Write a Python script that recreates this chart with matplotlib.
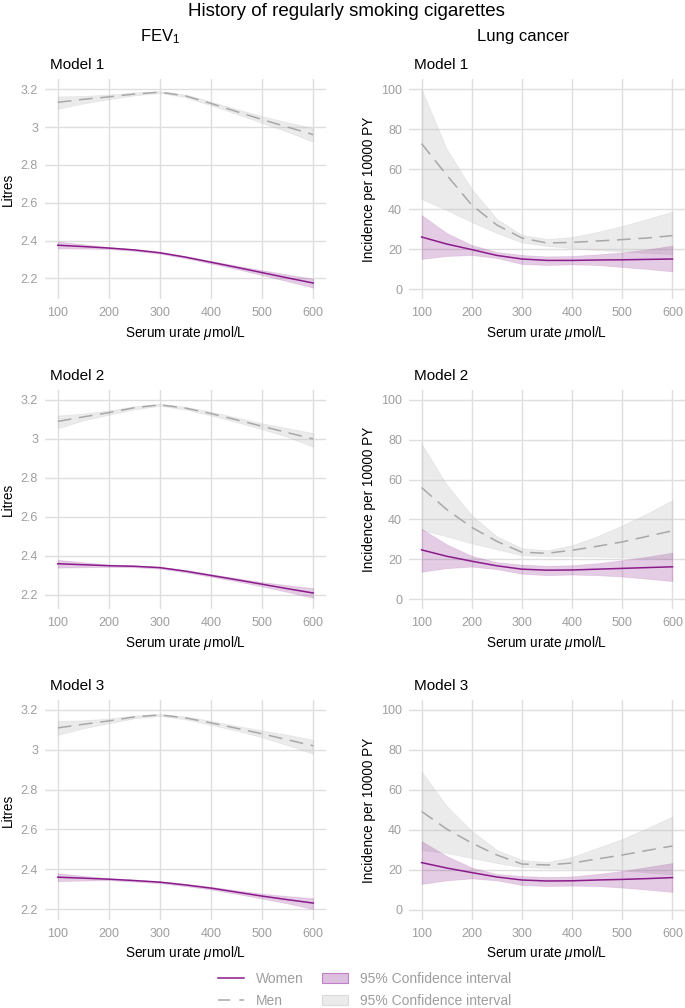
import numpy as np
import matplotlib
matplotlib.use('Agg')
from matplotlib import pyplot as plt
from matplotlib.lines import Line2D
from matplotlib.patches import Patch

plt.rcParams['font.family'] = ['Liberation Sans', 'DejaVu Sans']
plt.rcParams['mathtext.fontset'] = 'custom'
plt.rcParams['mathtext.rm'] = 'Liberation Sans'
plt.rcParams['mathtext.it'] = 'Liberation Sans:italic'

urate = [100, 150, 200, 250, 300, 350, 400, 450, 500, 550, 600]

# FEV1 (Litres), models 1-3
fev_men = [
    [3.131, 3.147, 3.16, 3.175, 3.185, 3.165, 3.125, 3.082, 3.04, 3.0, 2.96],
    [3.09, 3.113, 3.135, 3.16, 3.175, 3.158, 3.13, 3.098, 3.065, 3.032, 3.0],
    [3.11, 3.128, 3.145, 3.165, 3.175, 3.16, 3.135, 3.108, 3.08, 3.05, 3.02],
]
fev_men_hi = [
    [3.162, 3.165, 3.172, 3.183, 3.19, 3.172, 3.135, 3.095, 3.058, 3.025, 2.995],
    [3.12, 3.13, 3.146, 3.168, 3.18, 3.165, 3.14, 3.11, 3.08, 3.055, 3.03],
    [3.145, 3.148, 3.157, 3.172, 3.18, 3.167, 3.145, 3.12, 3.097, 3.075, 3.05],
]
fev_men_lo = [
    [3.097, 3.125, 3.148, 3.168, 3.18, 3.158, 3.115, 3.07, 3.022, 2.975, 2.922],
    [3.055, 3.095, 3.124, 3.152, 3.17, 3.151, 3.12, 3.086, 3.05, 3.01, 2.96],
    [3.075, 3.108, 3.133, 3.158, 3.17, 3.153, 3.125, 3.096, 3.063, 3.022, 2.98],
]
fev_women = [
    [2.375, 2.368, 2.36, 2.35, 2.335, 2.312, 2.285, 2.258, 2.23, 2.202, 2.175],
    [2.36, 2.355, 2.35, 2.347, 2.34, 2.322, 2.30, 2.278, 2.255, 2.232, 2.21],
    [2.36, 2.355, 2.35, 2.343, 2.335, 2.321, 2.305, 2.285, 2.265, 2.247, 2.23],
]
fev_women_hi = [
    [2.395, 2.38, 2.365, 2.355, 2.34, 2.318, 2.292, 2.267, 2.243, 2.22, 2.198],
    [2.38, 2.368, 2.356, 2.352, 2.345, 2.328, 2.307, 2.286, 2.266, 2.25, 2.235],
    [2.38, 2.367, 2.355, 2.348, 2.34, 2.327, 2.312, 2.294, 2.277, 2.265, 2.255],
]
fev_women_lo = [
    [2.358, 2.357, 2.355, 2.345, 2.33, 2.306, 2.278, 2.249, 2.217, 2.184, 2.15],
    [2.34, 2.342, 2.344, 2.342, 2.335, 2.316, 2.293, 2.27, 2.244, 2.215, 2.185],
    [2.34, 2.343, 2.345, 2.338, 2.33, 2.315, 2.298, 2.276, 2.253, 2.228, 2.20],
]

# Lung cancer incidence per 10000 PY, models 1-3
lc_men = [
    [72.7, 57, 42, 32, 25.5, 23, 23.3, 24, 24.7, 25.5, 26.7],
    [56, 45, 36, 29, 23.5, 23, 24.5, 26.5, 28.7, 31.5, 34.3],
    [49.3, 40.5, 33.5, 27.5, 23, 22.5, 23.5, 25.5, 27.5, 29.8, 32],
]
lc_men_hi = [
    [100, 70, 50, 35, 27, 25, 26, 28.5, 31.5, 35, 38.7],
    [78, 57.5, 42, 31.5, 25.5, 24.5, 27, 31.5, 37, 43, 49.7],
    [69.3, 52, 39.5, 30, 25, 24, 26.5, 31, 35.5, 41, 46.7],
]
lc_men_lo = [
    [45, 39.5, 33.5, 28, 23.3, 21.5, 20.5, 19.5, 18.8, 18, 17.5],
    [34.7, 31.5, 28, 25, 22, 21.5, 21.5, 21.3, 21, 20.5, 20],
    [30, 28.5, 26, 23.5, 21.5, 21, 20.7, 20.5, 19.8, 18.8, 17.8],
]
lc_women = [
    [26, 22.5, 19.7, 16.8, 15, 14.3, 14.3, 14.5, 14.6, 14.8, 15],
    [24.7, 21.5, 19, 16.7, 15, 14.5, 14.6, 15, 15.4, 15.8, 16.2],
    [23.7, 21, 18.7, 16.5, 15, 14.5, 14.6, 15, 15.3, 15.7, 16.2],
]
lc_women_hi = [
    [37, 28, 22, 18.5, 17, 16.3, 16.5, 17.3, 18.3, 19.8, 21.7],
    [35.3, 27.5, 21.7, 18.5, 17.3, 16.7, 17, 18, 19.5, 21.3, 23.3],
    [34.5, 27, 21.2, 18, 17, 16.5, 16.8, 18, 19.5, 21.5, 23.5],
]
lc_women_lo = [
    [15, 16.5, 17, 15.5, 12.5, 12, 12.3, 12, 11, 10, 8.8],
    [13.7, 15.5, 16.3, 15, 12.7, 12, 12.3, 12, 11.3, 10.2, 9],
    [13, 14.8, 15.8, 14.8, 12.5, 12, 12.2, 12, 11.2, 10.2, 9],
]

fev_ticks = [2.2, 2.4, 2.6, 2.8, 3.0, 3.2]
fev_ticklabels = ['2.2', '2.4', '2.6', '2.8', '3', '3.2']
lc_ticks = [0, 20, 40, 60, 80, 100]
x_ticks = [100, 200, 300, 400, 500, 600]
models = ['Model 1', 'Model 2', 'Model 3']

W, H = 685, 1008
purple = '#8B1A8B'
tick_grey = '#9E9E9E'

fig = plt.figure(figsize=(W / 100, H / 100), dpi=100)

rows = [(79, 299), (390, 609), (700, 920)]
cols = [(45, 326), (409, 685)]
fev_lims = [(2.0905, 3.2545), (2.128, 3.251), (2.145, 3.25)]


def px_axes(x0, x1, y0, y1):
    return fig.add_axes([x0 / W, 1 - y1 / H, (x1 - x0) / W, (y1 - y0) / H])


def style(ax):
    ax.set_facecolor('white')
    for s in ax.spines.values():
        s.set_visible(False)
    ax.grid(True, color='#DEDEDE', linewidth=1.0)
    ax.set_axisbelow(True)
    ax.tick_params(length=0, labelsize=9, labelcolor=tick_grey)
    ax.tick_params(axis='x', pad=6)
    ax.tick_params(axis='y', pad=5)
    ax.set_xlim(75, 625)
    ax.set_xticks(x_ticks)
    ax.set_xlabel(r'Serum urate $\mu$mol/L', fontsize=9.8, labelpad=3)


def draw(ax, m, m_lo, m_hi, w, w_lo, w_hi):
    ax.fill_between(urate, m_lo, m_hi, facecolor='#BDBDBD', alpha=0.3,
                    edgecolor='#C8C8C8', linewidth=0.6, zorder=2)
    ax.fill_between(urate, w_lo, w_hi, facecolor=purple, alpha=0.22,
                    edgecolor='#B070B0', linewidth=0.6, zorder=2)
    ax.plot(urate, m, color='#A8A8A8', linestyle=(0, (9, 5)), linewidth=1.1, zorder=3)
    ax.plot(urate, w, color=purple, linewidth=1.1, zorder=3)


for i in range(3):
    y0, y1 = rows[i]
    ax = px_axes(cols[0][0], cols[0][1], y0, y1)
    style(ax)
    draw(ax, fev_men[i], fev_men_lo[i], fev_men_hi[i],
         fev_women[i], fev_women_lo[i], fev_women_hi[i])
    ax.set_ylim(*fev_lims[i])
    ax.set_yticks(fev_ticks)
    ax.set_yticklabels(fev_ticklabels)
    ax.set_ylabel('Litres', fontsize=9.8, labelpad=4)
    ax.set_title(models[i], loc='left', fontsize=11, x=0.018, pad=7)

    ax = px_axes(cols[1][0], cols[1][1], y0, y1)
    style(ax)
    draw(ax, lc_men[i], lc_men_lo[i], lc_men_hi[i],
         lc_women[i], lc_women_lo[i], lc_women_hi[i])
    ax.set_ylim(-5, 105)
    ax.set_yticks(lc_ticks)
    ax.set_ylabel('Incidence per 10000 PY', fontsize=9.8, labelpad=4)
    ax.set_title(models[i], loc='left', fontsize=11, x=0.018, pad=7)

fig.text(346 / W, 1 - 12 / H, 'History of regularly smoking cigarettes',
         ha='center', va='center', fontsize=13.5)
fig.text(160 / W, 1 - 37 / H, r'FEV$_1$', ha='center', va='center', fontsize=12)
fig.text(523 / W, 1 - 37 / H, 'Lung cancer', ha='center', va='center', fontsize=12)

handles = [
    Line2D([], [], color=purple, linewidth=1.1),
    Line2D([], [], color='#A8A8A8', linestyle=(0, (8, 6)), linewidth=1.1),
    Patch(facecolor='#DDBFE0', edgecolor='#C080C8', linewidth=0.8),
    Patch(facecolor='#EBEBEB', edgecolor='#DADADA', linewidth=0.8),
]
labels = ['Women', 'Men', '95% Confidence interval', '95% Confidence interval']
leg = fig.legend(handles, labels, ncol=2, loc='upper left',
                 bbox_to_anchor=(218 / W, 1 - 972 / H), frameon=False,
                 fontsize=10, handlelength=1.9, handleheight=0.8,
                 handletextpad=0.85, columnspacing=1.3, labelspacing=0.55,
                 borderaxespad=0, borderpad=0)
for t in leg.get_texts():
    t.set_color(tick_grey)

fig.savefig('out.png', dpi=100)
